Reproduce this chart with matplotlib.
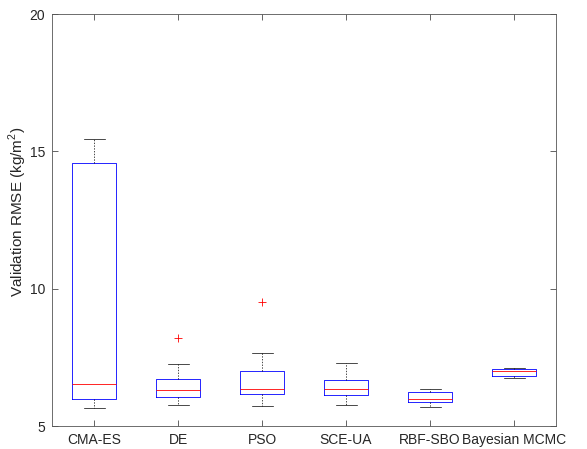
import matplotlib.pyplot as plt

plt.rcParams['font.family'] = ['Liberation Sans', 'DejaVu Sans']
plt.rcParams['mathtext.fontset'] = 'custom'
plt.rcParams['mathtext.rm'] = 'Liberation Sans'

# data
methods = ['CMA-ES', 'DE', 'PSO', 'SCE-UA', 'RBF-SBO', 'Bayesian MCMC']
whislo = [5.66, 5.75, 5.73, 5.78, 5.70, 6.75]
q1 = [6.00, 6.05, 6.16, 6.12, 5.88, 6.82]
med = [6.52, 6.31, 6.35, 6.33, 5.97, 7.00]
q3 = [14.59, 6.70, 7.01, 6.67, 6.23, 7.07]
whishi = [15.46, 7.27, 7.65, 7.30, 6.33, 7.11]
fliers = [[], [8.22], [9.53], [], [], []]

stats = []
for i in range(len(methods)):
    stats.append(dict(label=methods[i], whislo=whislo[i], q1=q1[i], med=med[i],
                      q3=q3[i], whishi=whishi[i], fliers=fliers[i]))

fig = plt.figure(figsize=(5.87, 4.49), dpi=100)
ax = fig.add_axes([0.0886, 0.0512, 0.8586, 0.9176])

ax.bxp(stats, positions=range(1, 7), widths=0.52, showfliers=True,
       boxprops=dict(color='#0000ff', linewidth=0.6),
       medianprops=dict(color='#ff0000', linewidth=0.6),
       whiskerprops=dict(color='black', linewidth=0.5, linestyle=(0, (2, 2))),
       capprops=dict(color='black', linewidth=0.5),
       capwidths=0.25,
       flierprops=dict(marker='+', markeredgecolor='#ff0000', markersize=6,
                       markeredgewidth=0.6, linestyle='none'))

ax.set_xlim(0.5, 6.5)
ax.set_ylim(5, 20)
ax.set_yticks([5, 10, 15, 20])
ax.set_xticks(range(1, 7))
ax.set_xticklabels(methods)
ax.set_ylabel('Validation RMSE (kg/m$^{2}$)', fontsize=11, color='#262626')
ax.yaxis.set_label_coords(-0.046, 0.52)

ax.tick_params(direction='in', top=True, right=True, length=4, width=0.5,
               labelsize=10, colors='#262626', pad=5)
for s in ax.spines.values():
    s.set_linewidth(0.6)
    s.set_color('#555555')

fig.savefig('out.png', dpi=100)
